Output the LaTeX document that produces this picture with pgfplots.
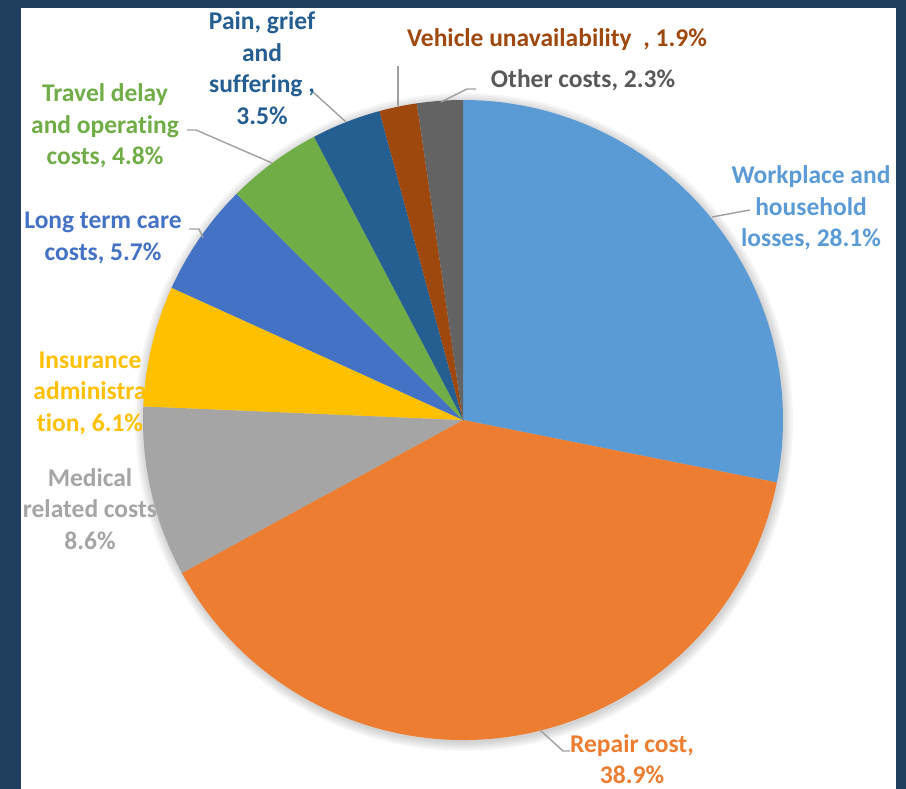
\documentclass[border=0pt]{standalone}
\usepackage{fontspec}
\setmainfont{Carlito}[Ligatures=NoCommon]
\usepackage{pgfplots}
\pgfplotsset{compat=1.18}
\definecolor{bg}{HTML}{1F3D5C}
\definecolor{cWork}{HTML}{5B9BD5}
\definecolor{cRepair}{HTML}{ED7D31}
\definecolor{cMed}{HTML}{A5A5A5}
\definecolor{cIns}{HTML}{FFC000}
\definecolor{cLong}{HTML}{4472C4}
\definecolor{cTravel}{HTML}{70AD47}
\definecolor{cPain}{HTML}{255E91}
\definecolor{cVeh}{HTML}{9E480E}
\definecolor{cOther}{HTML}{636363}
\definecolor{lead}{HTML}{A0A0A0}
\begin{document}
\begin{tikzpicture}
\begin{axis}[scale only axis, width=906pt, height=789pt,
  xmin=0, xmax=906, ymin=0, ymax=789, y dir=reverse,
  hide axis, clip=false]
\pgfplotsextra{
  \fill[bg] (axis cs:0,0) rectangle (axis cs:906,789);
  \fill[white] (axis cs:21,8) rectangle (axis cs:896,789);
  \foreach \r in {329,327,325,323,321}{
    \fill[black, opacity=0.035] (axis cs:464,422) circle[radius=\r pt];
  }
  \gdef\s{90}
  \foreach \v/\c in {28.1/cWork, 38.9/cRepair, 8.6/cMed, 6.1/cIns, 5.7/cLong, 4.8/cTravel, 3.5/cPain, 1.9/cVeh, 2.3/cOther}{
    \pgfmathsetmacro\e{\s-\v*360/99.9}
    \fill[\c] (axis cs:463,420) -- ++(\s:320pt) arc[start angle=\s, end angle=\e, radius=320pt] -- cycle;
    \xdef\s{\e}
  }
  \tikzset{lab/.style={align=center, font=\bfseries\fontsize{25.5}{31.5}\selectfont, inner sep=0pt}}
  % leader lines
  \draw[lead, line width=1.4pt] (axis cs:712,217) -- (axis cs:750,210);
  \draw[lead, line width=1.4pt] (axis cs:540,730) -- (axis cs:563,751) -- (axis cs:570,751);
  \draw[lead, line width=1.4pt] (axis cs:187,130) -- (axis cs:196,130) -- (axis cs:272,163);
  \draw[lead, line width=1.4pt] (axis cs:189,229) -- (axis cs:199,229) -- (axis cs:203,238);
  \draw[lead, line width=1.4pt] (axis cs:313,92) -- (axis cs:346,122);
  \draw[lead, line width=1.4pt] (axis cs:398,66) -- (axis cs:398,106);
  \draw[lead, line width=1.4pt] (axis cs:441,102) -- (axis cs:467,89) -- (axis cs:476,89);
  % labels
  \node[lab, text=cWork] at (axis cs:811,208) {Workplace and\\household\\losses, 28.1\%};
  \node[lab, text=cRepair] at (axis cs:632,759) {Repair cost,\\38.9\%};
  \node[lab, text=cMed] at (axis cs:90,509) {Medical\\related costs\\8.6\%};
  \node[lab, text=cIns] at (axis cs:90,393) {Insurance\\administra\\tion, 6.1\%};
  \node[lab, text=cLong] at (axis cs:103,238) {Long term care\\costs, 5.7\%};
  \node[lab, text=cTravel] at (axis cs:105,126) {Travel delay\\and operating\\costs, 4.8\%};
  \node[lab, text=cPain] at (axis cs:262,68) {Pain, grief\\and\\suffering ,\\3.5\%};
  \node[lab, text=cVeh] at (axis cs:557,40) {Vehicle unavailability~ , 1.9\%};
  \node[lab, text=cOther!90!black] at (axis cs:583,80) {Other costs, 2.3\%};
}
\end{axis}
\end{tikzpicture}
\end{document}
